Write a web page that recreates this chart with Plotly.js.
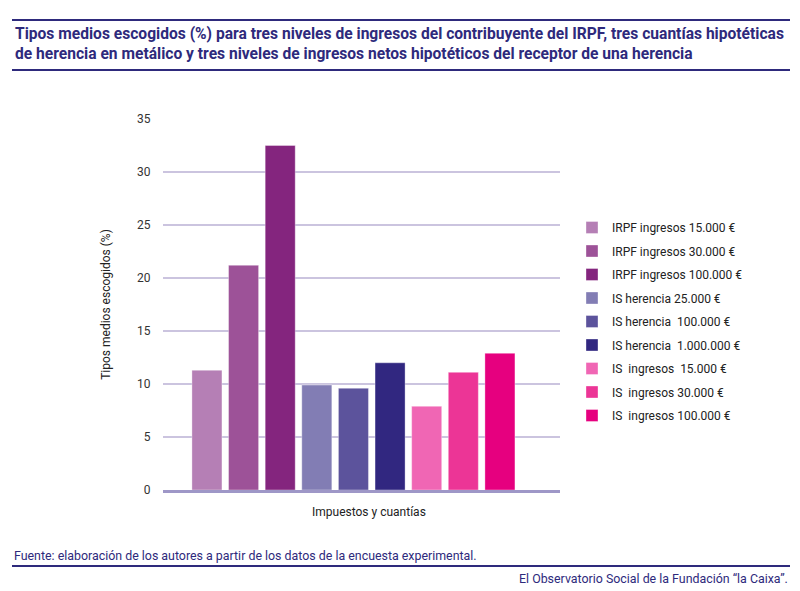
<!DOCTYPE html>
<html>
<head>
<meta charset="utf-8">
<script src="https://cdn.plot.ly/plotly-3.0.1.min.js"></script>
<style>
  html, body { margin: 0; padding: 0; background: #fff; }
  #chart { width: 800px; height: 591px; }
</style>
</head>
<body>
<div id="chart"></div>
<script>
// Series names (one bar per series) and the average rates chosen (%)
const seriesNames = [
  'IRPF ingresos 15.000 €',
  'IRPF ingresos 30.000 €',
  'IRPF ingresos 100.000 €',
  'IS herencia 25.000 €',
  'IS herencia  100.000 €',
  'IS herencia  1.000.000 €',
  'IS  ingresos  15.000 €',
  'IS  ingresos 30.000 €',
  'IS  ingresos 100.000 €'
];
const tiposMedios = [11.3, 21.2, 32.5, 9.9, 9.6, 12.0, 7.9, 11.1, 12.9];
const barColors = [
  '#b57fb5', '#9d5298', '#84257e',
  '#827db4', '#5c539c', '#312780',
  '#f066b4', '#ec3596', '#e6007f'
];
const yTicks = [0, 5, 10, 15, 20, 25, 30, 35];

const titleLines = [
  'Tipos medios escogidos (%) para tres niveles de ingresos del contribuyente del IRPF, tres cuantías hipotéticas',
  'de herencia en metálico y tres niveles de ingresos netos hipotéticos del receptor de una herencia'
];

const W = 800, H = 591;
const M = { l: 163, r: 240, t: 119, b: 101 };
const plotW = W - M.l - M.r, plotH = H - M.t - M.b;
// pixel -> paper coordinate helpers for decorations outside the plot area
const px = x => (x - M.l) / plotW;
const py = y => (H - M.b - y) / plotH;

const ink = '#2e2a7c';
const titleFont = { family: 'Roboto, sans-serif', size: 15.6, color: ink, weight: 'bold' };

const traces = seriesNames.map((name, i) => ({
  type: 'bar',
  name: name,
  x: [i],
  y: [tiposMedios[i]],
  width: 0.82,
  legendgroup: 'g' + i,
  marker: { color: barColors[i], line: { color: 'rgba(255,255,255,0.35)', width: 1 } },
  hoverinfo: 'name+y'
}));

const layout = {
  width: W, height: H,
  margin: M,
  paper_bgcolor: '#fff',
  plot_bgcolor: '#fff',
  font: { family: 'Roboto, "Liberation Sans", sans-serif', size: 12, color: '#222' },
  barmode: 'overlay',
  showlegend: true,
  xaxis: {
    range: [-1.2, 9.64],
    showticklabels: false,
    ticks: '',
    showgrid: false,
    zeroline: false,
    showline: true,
    linecolor: '#9e97c7',
    linewidth: 2.5,
    fixedrange: true
  },
  yaxis: {
    range: [0, 35],
    tickvals: yTicks,
    ticktext: yTicks.map(String),
    ticks: 'outside', ticklen: 9, tickcolor: 'rgba(0,0,0,0)',
    tickfont: { size: 12, color: '#333' },
    showgrid: true,
    gridcolor: '#cbc4df',
    gridwidth: 1.3,
    zeroline: false,
    showline: false,
    fixedrange: true,
    title: { text: 'Tipos medios escogidos (%)', font: { size: 12, color: '#222' }, standoff: 23 }
  },
  legend: {
    x: px(572), xanchor: 'left',
    y: py(213), yanchor: 'top',
    traceorder: 'grouped',
    tracegroupgap: 4.5,
    font: { size: 12, color: '#222' },
    bgcolor: 'rgba(0,0,0,0)'
  },
  shapes: [
    { type: 'line', xref: 'paper', yref: 'paper', x0: px(12), x1: px(790), y0: py(20), y1: py(20), line: { color: ink, width: 2.2 } },
    { type: 'line', xref: 'paper', yref: 'paper', x0: px(12), x1: px(790), y0: py(70), y1: py(70), line: { color: ink, width: 2.2 } },
    { type: 'line', xref: 'paper', yref: 'paper', x0: px(12), x1: px(790), y0: py(566), y1: py(566), line: { color: ink, width: 2.2 } }
  ],
  annotations: [
    {
      text: titleLines.join('<br>'),
      xref: 'paper', yref: 'paper', x: px(12.5), y: py(43.5), xanchor: 'left', yanchor: 'middle',
      align: 'left', showarrow: false, font: titleFont
    },
    {
      text: 'Impuestos y cuantías',
      xref: 'paper', yref: 'paper', x: px(369), y: py(512), xanchor: 'center', yanchor: 'middle',
      showarrow: false, font: { size: 12, color: '#222' }
    },
    {
      text: 'Fuente: elaboración de los autores a partir de los datos de la encuesta experimental.',
      xref: 'paper', yref: 'paper', x: px(12), y: py(555), xanchor: 'left', yanchor: 'middle',
      showarrow: false, font: { size: 12.4, color: ink }
    },
    {
      text: 'El Observatorio Social de la Fundación “la Caixa”.',
      xref: 'paper', yref: 'paper', x: px(790), y: py(578), xanchor: 'right', yanchor: 'middle',
      showarrow: false, font: { size: 12.4, color: ink }
    }
  ]
};

Plotly.newPlot('chart', traces, layout, { displayModeBar: false, staticPlot: true });
</script>
</body>
</html>
